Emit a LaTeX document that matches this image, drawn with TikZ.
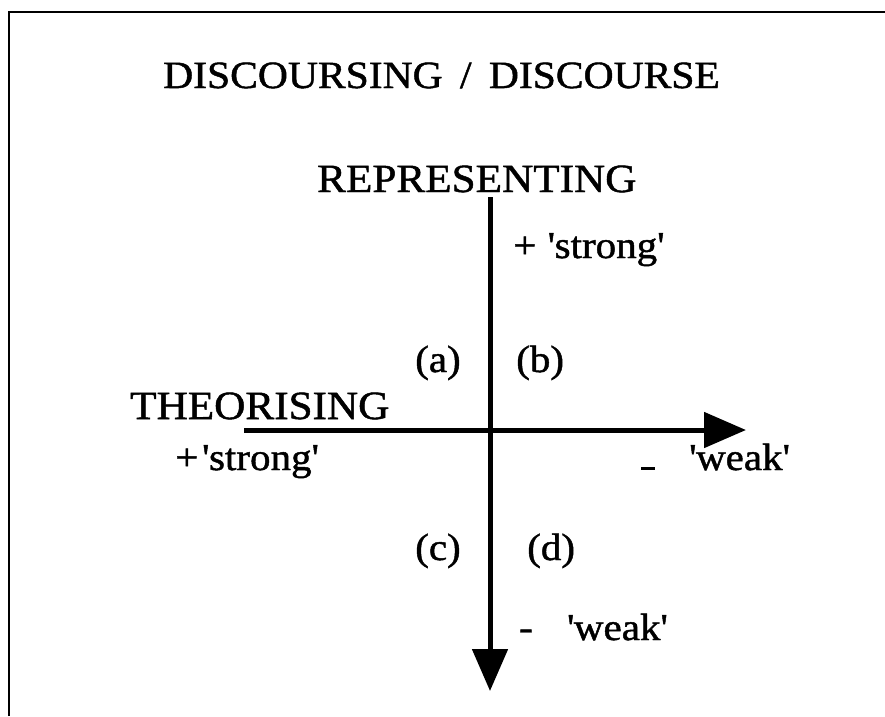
\documentclass[tikz,border=0pt]{standalone}
\usepackage{fontspec}
\setmainfont{Liberation Serif}[FakeStretch=1.08,FakeBold=1.2]
\usetikzlibrary{arrows.meta}
\newcommand{\sq}{\textquotesingle}
\begin{document}
\begin{tikzpicture}[x=1pt,y=-1pt,
  lbl/.style={anchor=base west,inner sep=0pt,font=\fontsize{38}{42}\selectfont},
  big/.style={anchor=base west,inner sep=0pt,font=\fontsize{40}{44}\selectfont},
  ttl/.style={anchor=base west,inner sep=0pt,font=\fontsize{38.5}{44}\selectfont},
  axis/.style={line width=5pt,-{Triangle[length=42pt,width=35pt]}},
  frame/.style={line width=2pt}]
\useasboundingbox (0,0) rectangle (885,716);
% frame (top and left edges only)
\coordinate (f1) at (9,716);
\coordinate (f2) at (9,12);
\coordinate (f3) at (885,12);
\draw[frame] (f1) -- (f2) -- (f3);
% texts
\node[ttl] (title) at (163,88) {DISCOURSING\hspace{0.45em}/\hspace{0.45em}DISCOURSE};
\node[big] (rep) at (317,192) {REPRESENTING};
\node[big] (theo) at (130,419) {THEORISING};
\node[lbl] (strongU) at (513,258) {+\hspace{0.3em}\sq strong\sq};
\node[lbl] (a) at (415,372) {(a)};
\node[lbl] (b) at (516,372) {(b)};
\node[lbl] (strongL) at (175,470) {+\hspace{0.1em}\sq strong\sq};
\node[lbl] (weakR) at (641,470) {\rule{14pt}{3pt}\hspace{34pt}\sq weak\sq};
\node[lbl] (c) at (415,560) {(c)};
\node[lbl] (d) at (527,560) {(d)};
\node[lbl] (weakD) at (519,640) {-\hspace{0.9em}\sq weak\sq};
% axes
\coordinate (vtop) at (490,197);
\coordinate (vbot) at (490,691);
\coordinate (hleft) at (244,430);
\coordinate (hright) at (746,430);
\draw[axis] (hleft) -- (hright);
\draw[axis] (vtop) -- (vbot);
\end{tikzpicture}
\end{document}
